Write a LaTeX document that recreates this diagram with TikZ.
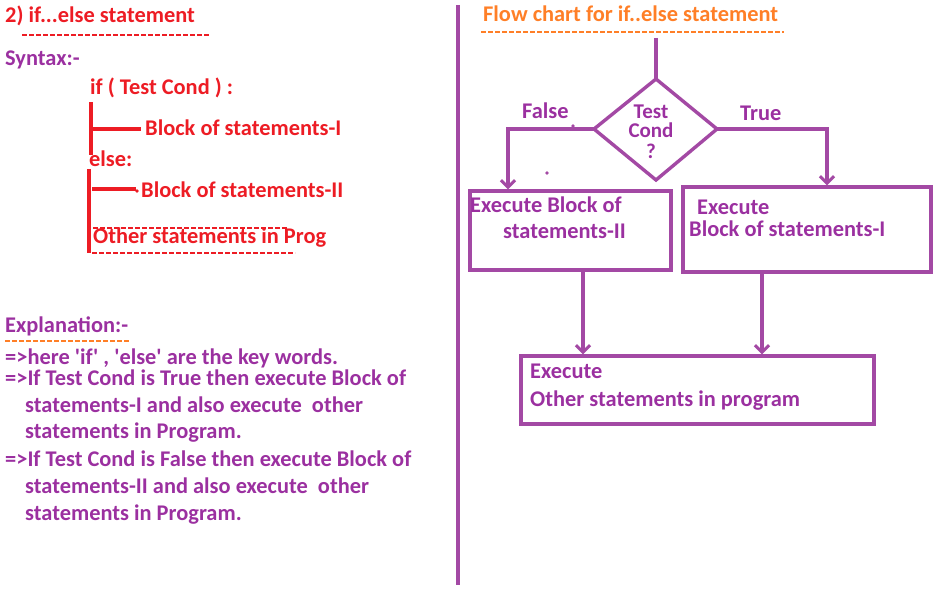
\documentclass[tikz,border=0pt]{standalone}
\usepackage{fontspec}
\setmainfont{Carlito}[Ligatures=TeXOff]
\usetikzlibrary{arrows.meta}
\definecolor{pred}{HTML}{ED1C24}
\definecolor{ppur}{HTML}{A349A4}
\definecolor{tpur}{HTML}{9B30A0}
\definecolor{porg}{HTML}{FF7F27}
\tikzset{
  txt/.style={anchor=base west, inner sep=0pt, font=\fontsize{22.4}{26}\selectfont\bfseries},
  redtxt/.style={txt, text=pred},
  purtxt/.style={txt, text=tpur},
  orgtxt/.style={txt, text=porg},
  dtxt/.style={anchor=base, inner sep=0pt, text=tpur, font=\fontsize{21}{24}\selectfont\bfseries},
  redline/.style={draw=pred, line width=3.4pt},
  reddash/.style={draw=pred, line width=1.8pt, dash pattern=on 5pt off 2pt},
  orgdash/.style={draw=porg, line width=1.8pt, dash pattern=on 5pt off 2pt},
  flow/.style={draw=ppur, line width=3.4pt},
  flowbox/.style={flow, rectangle, inner sep=0pt},
  arr/.style={flow, -{Straight Barb[length=7pt,width=14pt,line width=3pt]}},
}
\begin{document}
\begin{tikzpicture}[x=1pt,y=-1pt]
\useasboundingbox (0,0) rectangle (942,610);
% ---------------- left side ----------------
\node[redtxt] (title) at (5,23) {2) if...else statement};
\draw[reddash] (22,35) -- (210,35);
\node[purtxt] (syntax) at (5,66) {Syntax:-};
\node[redtxt] (ifc) at (90,95) {if ( Test Cond ) :};
\draw[redline] (91,102) -- (91,155);
\draw[redline] (91,129) -- (141,129);
\node[redtxt] (b1) at (145,135) {Block of statements-I};
\node[redtxt] (else) at (89,166) {else:};
\draw[redline] (89,169) -- (89,253);
\draw[redline] (92,189) -- (136,189);
\fill[pred] (137,191) circle (1.8);
\node[redtxt] (b2) at (141,197) {Block of statements-II};
\draw[reddash] (93,228) -- (287,228);
\node[redtxt] (other) at (93,243) {Other statements in Prog};
\draw[reddash] (92,253) -- (295,253);
% explanation
\node[purtxt] (expl) at (5,332) {Explanation:-};
\draw[orgdash] (5,341) -- (130,341);
\node[purtxt] (e1) at (5,364) {=>here 'if' , 'else' are the key words.};
\node[purtxt] (e2) at (5,385) {=>If Test Cond is True then execute Block of};
\node[purtxt] (e3) at (25,412) {statements-I and also execute\ \ other};
\node[purtxt] (e4) at (25,438) {statements in Program.};
\node[purtxt] (e5) at (5,466) {=>If Test Cond is False then execute Block of};
\node[purtxt] (e6) at (25,493) {statements-II and also execute\ \ other};
\node[purtxt] (e7) at (25,520) {statements in Program.};
% divider
\draw[draw=ppur, line width=3.2pt] (458,5) -- (458,585);
% ---------------- right side ----------------
\node[orgtxt] (ftitle) at (483,22) {Flow chart for if..else statement};
\draw[orgdash] (481,32) -- (784,32);
% diamond
\coordinate (dT) at (656,79);
\coordinate (dL) at (594,129);
\coordinate (dR) at (717,129);
\coordinate (dB) at (656,180);
\coordinate (start) at (656,38);
\draw[flow, line join=miter] (dT) -- (dR) -- (dB) -- (dL) -- cycle;
\draw[flow] (start) -- (dT);
\node[dtxt] (t1) at (651,118) {Test};
\node[dtxt] (t2) at (651,137.5) {Cond};
\node[dtxt] (t3) at (651,158) {?};
% boxes
\node[flowbox, minimum width=201pt, minimum height=79pt] (boxF) at (570.5,230.5) {};
\node[flowbox, minimum width=248pt, minimum height=85pt] (boxT) at (807,229.5) {};
\node[flowbox, minimum width=353pt, minimum height=68pt] (boxO) at (697.5,390) {};
\node[purtxt] (bf1) at (470,212) {Execute Block of};
\node[purtxt] (bf2) at (503,238) {statements-II};
\node[purtxt] (bt1) at (697,214) {Execute};
\node[purtxt] (bt2) at (689,236) {Block of statements-I};
\node[purtxt] (bo1) at (530,378) {Execute};
\node[purtxt] (bo2) at (530,406) {Other statements in program};
% branches
\coordinate (fc) at (508,129);
\coordinate (tc) at (827,129);
\draw[arr] (dL) -- (fc) -- (boxF.north -| fc);
\draw[arr] (dR) -- (tc) -- (boxT.north -| tc);
\node[purtxt] (flab) at (522,118) {False};
\node[purtxt] (tlab) at (740,120) {True};
\fill[ppur] (573,126) circle (1.8);
\fill[ppur] (547,173) circle (1.8);
% to bottom box
\coordinate (fa) at (583,0);
\coordinate (ta) at (762,0);
\draw[arr] (boxF.south -| fa) -- (boxO.north -| fa);
\draw[arr] (boxT.south -| ta) -- (boxO.north -| ta);
\end{tikzpicture}
\end{document}
